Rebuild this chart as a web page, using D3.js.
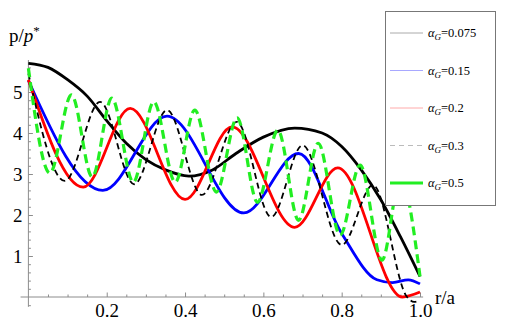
<!DOCTYPE html>
<html>
<head>
<meta charset="utf-8">
<script src="https://cdn.jsdelivr.net/npm/d3@7"></script>
<style>
  body { margin: 0; background: #fff; }
  text { font-family: "Liberation Serif", "Times New Roman", serif; }
</style>
</head>
<body>
<svg id="chart" width="507" height="336"></svg>
<script>
// Values, [r/a, p/p*] pairs for each alpha_G.
const alphaLabels = ["0.075", "0.15", "0.2", "0.3", "0.5"];

const pts075 = [[0, 5.7], [0.05, 5.6], [0.1, 5.3], [0.15, 4.9], [0.2, 4.3], [0.25, 3.75], [0.3, 3.35],
  [0.35, 3.1], [0.41, 2.95], [0.47, 3.1], [0.53, 3.5], [0.6, 3.9], [0.68, 4.12], [0.75, 4.0],
  [0.8, 3.67], [0.85, 3.1], [0.9, 2.37], [0.95, 1.47], [1.0, 0.5]];

const pts15 = [[0, 5.28], [0.19, 2.6], [0.354, 4.41], [0.55, 2.05], [0.69, 3.5], [0.8, 1.55],
  [0.89, 0.42], [0.93, 0.35], [0.97, 0.42], [1.0, 0.32]];

const pts2 = [[0, 5.3], [0.14, 2.68], [0.26, 4.6], [0.4, 2.38], [0.52, 4.15], [0.68, 1.7],
  [0.79, 3.15], [0.955, 0.0], [1.0, 0.12]];

const pts3 = [[0, 5.45], [0.093, 2.83], [0.183, 4.76], [0.27, 2.75], [0.354, 4.56], [0.443, 2.49],
  [0.532, 4.27], [0.62, 1.95], [0.7, 3.7], [0.8, 1.27], [0.88, 2.73], [0.967, 0.0],
  [0.985, -0.12], [1.0, -0.08]];

const pts5 = [[0, 5.58], [0.055, 3.02], [0.11, 4.93], [0.163, 2.93], [0.213, 4.85], [0.268, 2.8],
  [0.32, 4.76], [0.375, 2.8], [0.425, 4.56], [0.48, 2.56], [0.533, 4.37], [0.585, 2.31],
  [0.637, 4.07], [0.69, 1.87], [0.74, 3.75], [0.796, 1.51], [0.847, 3.22], [0.903, 0.9],
  [0.95, 2.9], [1.0, 0.5]];

const xMajor = [0.2, 0.4, 0.6, 0.8, 1.0];
const yMajor = [1, 2, 3, 4, 5];

// Line styles (plot and legend).
const styles = [
  { stroke: "#000", width: 2.8, dash: null, legend: "#aaa", legendWidth: 1 },
  { stroke: "#0000ff", width: 2.8, dash: null, legend: "#a8a8ff", legendWidth: 1 },
  { stroke: "#ff0000", width: 2.8, dash: null, legend: "#ffaaaa", legendWidth: 1 },
  { stroke: "#000", width: 1.8, dash: "6,4", legend: "#bbb", legendWidth: 1, legendDash: "5,4" },
  { stroke: "#22ee22", width: 3.2, dash: "9,5", legend: "#22ee22", legendWidth: 3 },
];
const seriesPts = [pts075, pts15, pts2, pts3, pts5];

const svg = d3.select("#chart");
const x = d3.scaleLinear().domain([0, 1]).range([28.4, 420]);
const y = d3.scaleLinear().domain([0, 5]).range([297, 92]);
const axisColor = "#8c8c8c";

// Axis lines at x=0 / y=0.
svg.append("line")
  .attr("x1", x(-0.02)).attr("x2", x(1.008))
  .attr("y1", y(0)).attr("y2", y(0))
  .attr("stroke", axisColor).attr("stroke-width", 1);
svg.append("line")
  .attr("x1", x(0)).attr("x2", x(0))
  .attr("y1", y(-0.24)).attr("y2", y(5.78))
  .attr("stroke", axisColor).attr("stroke-width", 1);

// Minor ticks.
const xMinor = d3.range(1, 20).map((i) => i * 0.05).filter((v) => Math.abs(v * 5 - Math.round(v * 5)) > 1e-6);
const yMinor = d3.range(-1, 29).map((i) => i * 0.2).filter((v) => Math.abs(v - Math.round(v)) > 1e-6);

const xAxisMinor = svg.append("g").attr("transform", `translate(0,${y(0)})`)
  .call(d3.axisBottom(x).tickValues(xMinor).tickSize(-2.5).tickFormat(""));
const xAxisMajor = svg.append("g").attr("transform", `translate(0,${y(0)})`)
  .call(d3.axisBottom(x).tickValues(xMajor).tickSize(-4.5).tickPadding(7).tickFormat(d3.format(".1f")));
const yAxisMinor = svg.append("g").attr("transform", `translate(${x(0)},0)`)
  .call(d3.axisLeft(y).tickValues(yMinor).tickSize(-2.5).tickFormat(""));
const yAxisMajor = svg.append("g").attr("transform", `translate(${x(0)},0)`)
  .call(d3.axisLeft(y).tickValues(yMajor).tickSize(-4.5).tickPadding(6).tickFormat(d3.format("d")));

[xAxisMinor, xAxisMajor, yAxisMinor, yAxisMajor].forEach((g) => {
  g.select(".domain").remove();
  g.selectAll("line").attr("stroke", axisColor);
  g.selectAll("text")
    .attr("fill", "#000")
    .style("font-size", "19px")
    .style("font-family", '"Liberation Serif", serif');
});
yAxisMajor.selectAll("text").attr("dy", "0.35em");

// Curves.
const line = d3.line()
  .x((d) => x(d[0]))
  .y((d) => y(d[1]))
  .curve(d3.curveMonotoneX);

seriesPts.forEach((pts, i) => {
  const s = styles[i];
  svg.append("path")
    .datum(pts)
    .attr("fill", "none")
    .attr("stroke", s.stroke)
    .attr("stroke-width", s.width)
    .attr("stroke-dasharray", s.dash)
    .attr("stroke-linejoin", "round")
    .attr("d", line);
});

// Axis labels.
const yLabel = svg.append("text").attr("x", 9).attr("y", 42).style("font-size", "19px").attr("fill", "#000");
yLabel.append("tspan").text("p/");
yLabel.append("tspan").style("font-style", "italic").text("p");
yLabel.append("tspan").attr("dy", -7).style("font-size", "13px").text("*");

svg.append("text").attr("x", 435).attr("y", 304).style("font-size", "19px").attr("fill", "#000").text("r/a");

// Legend.
const legend = svg.append("g");
legend.append("rect")
  .attr("x", 385.5).attr("y", 11.5).attr("width", 110).attr("height", 194)
  .attr("fill", "#fff").attr("stroke", "#777").attr("stroke-width", 1);

const legendY = d3.scalePoint().domain(alphaLabels).range([33, 183]);
alphaLabels.forEach((lab, i) => {
  const s = styles[i];
  const yy = legendY(lab);
  legend.append("line")
    .attr("x1", 390).attr("x2", 423).attr("y1", yy).attr("y2", yy)
    .attr("stroke", s.legend).attr("stroke-width", s.legendWidth)
    .attr("stroke-dasharray", s.legendDash || null);
  const t = legend.append("text").attr("x", 428).attr("y", yy + 4).style("font-size", "12.5px").attr("fill", "#000");
  t.append("tspan").style("font-style", "italic").text("α");
  t.append("tspan").attr("dy", 3).style("font-style", "italic").style("font-size", "9px").text("G");
  t.append("tspan").attr("dy", -3).text("=" + lab);
});
</script>
</body>
</html>
